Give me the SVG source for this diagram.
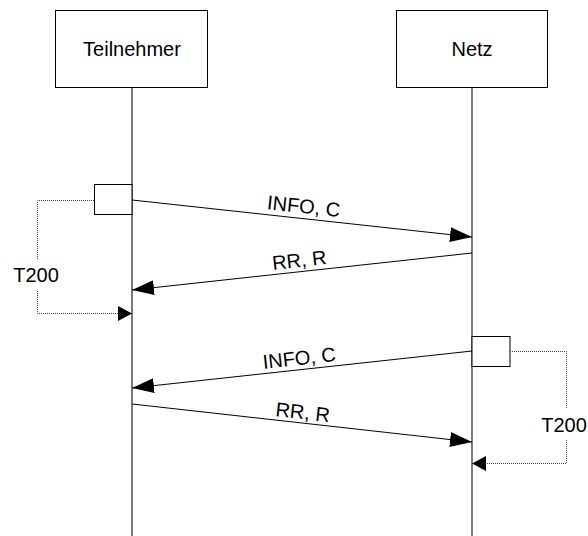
<svg xmlns="http://www.w3.org/2000/svg" width="588" height="536" viewBox="0 0 588 536">
<style>
  .box{fill:#fff;stroke:#000;stroke-width:1}
  .life{stroke:#222;stroke-width:1.2;fill:none}
  .msg{stroke:#000;stroke-width:1;fill:none}
  .timer{stroke:#444;stroke-width:1;stroke-dasharray:1 1;fill:none}
  text{font-family:"Liberation Sans",Arial,Helvetica,sans-serif;font-size:20px;fill:#000;text-anchor:middle}
</style>
<defs>
  <marker id="ah" markerUnits="userSpaceOnUse" markerWidth="22" markerHeight="16" refX="22" refY="7.5" orient="auto">
    <path d="M0,0 L22,7.5 L0,15 Z" fill="#000"/>
  </marker>
  <marker id="ahs" markerUnits="userSpaceOnUse" markerWidth="15" markerHeight="16" refX="14" refY="7.5" orient="auto">
    <path d="M0,0 L14,7.5 L0,15 Z" fill="#000"/>
  </marker>
</defs>
<rect width="588" height="536" fill="#fff"/>
<g id="lifelines">
  <line class="life" x1="132" y1="87" x2="132" y2="536"/>
  <line class="life" x1="472" y1="87" x2="472" y2="536"/>
</g>
<g id="teilnehmer">
  <rect class="box" x="55.5" y="10.5" width="152" height="77"/>
  <text x="132" y="56">Teilnehmer</text>
</g>
<g id="netz">
  <rect class="box" x="396.5" y="10.5" width="151" height="77"/>
  <text x="472" y="56">Netz</text>
</g>
<g id="timer-left">
  <rect class="box" x="94.5" y="184.5" width="37.5" height="30"/>
</g>
<g id="timer-right">
  <rect class="box" x="472" y="336.5" width="38" height="30"/>
</g>
<g id="connectors">
  <line class="msg" x1="132" y1="200" x2="472" y2="237" marker-end="url(#ah)"/>
  <line class="msg" x1="472" y1="253" x2="132" y2="290" marker-end="url(#ah)"/>
  <line class="msg" x1="472" y1="351" x2="132" y2="388" marker-end="url(#ah)"/>
  <line class="msg" x1="132" y1="404" x2="472" y2="442" marker-end="url(#ah)"/>
  <polyline class="timer" points="94,200.5 37.5,200.5 37.5,260"/>
  <polyline class="timer" points="37.5,291 37.5,313.5 132,313.5" marker-end="url(#ahs)"/>
  <polyline class="timer" points="510,351.5 566.5,351.5 566.5,408"/>
  <polyline class="timer" points="566.5,440 566.5,463.5 472,463.5" marker-end="url(#ahs)"/>
</g>
<g id="labels">
  <text transform="translate(303,213) rotate(6.2)">INFO, C</text>
  <text transform="translate(300,267) rotate(-6.2)">RR, R</text>
  <text transform="translate(300,365) rotate(-6.2)">INFO, C</text>
  <text transform="translate(302,419) rotate(6.2)">RR, R</text>
  <text x="36" y="282">T200</text>
  <text x="564" y="432">T200</text>
</g>
</svg>
